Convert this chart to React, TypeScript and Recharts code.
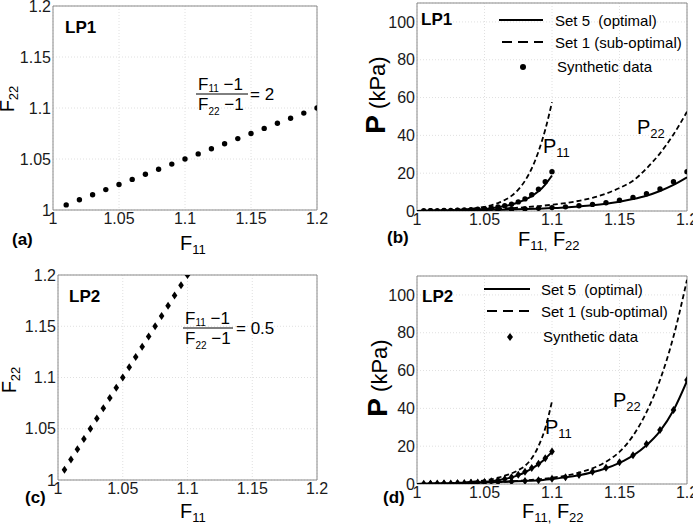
import React from 'react';
import {
  ComposedChart, Line, Scatter, XAxis, YAxis, CartesianGrid, ReferenceArea,
} from 'recharts';

// ---------- data ----------
const F_TICKS = [1, 1.05, 1.1, 1.15, 1.2];
const P_TICKS = [0, 20, 40, 60, 80, 100];

// (a) LP1 path
const A_F11 = [1.01, 1.02, 1.03, 1.04, 1.05, 1.06, 1.07, 1.08, 1.09, 1.1, 1.11, 1.12, 1.13, 1.14, 1.15, 1.16, 1.17, 1.18, 1.19, 1.2];
const A_F22 = [1.005, 1.01, 1.015, 1.02, 1.025, 1.03, 1.035, 1.04, 1.045, 1.05, 1.055, 1.06, 1.065, 1.07, 1.075, 1.08, 1.085, 1.09, 1.095, 1.1];

// (c) LP2 path
const C_F11 = [1.005, 1.01, 1.015, 1.02, 1.025, 1.03, 1.035, 1.04, 1.045, 1.05, 1.055, 1.06, 1.065, 1.07, 1.075, 1.08, 1.085, 1.09, 1.095, 1.1];
const C_F22 = [1.01, 1.02, 1.03, 1.04, 1.05, 1.06, 1.07, 1.08, 1.09, 1.1, 1.11, 1.12, 1.13, 1.14, 1.15, 1.16, 1.17, 1.18, 1.19, 1.2];

// stretch grids
const LINE_X_SHORT = [1, 1.005, 1.01, 1.015, 1.02, 1.025, 1.03, 1.035, 1.04, 1.045, 1.05, 1.055, 1.06, 1.065, 1.07, 1.075, 1.08, 1.085, 1.09, 1.095, 1.1];
const LINE_X_LONG = [1, 1.01, 1.02, 1.03, 1.04, 1.05, 1.06, 1.07, 1.08, 1.09, 1.1, 1.11, 1.12, 1.13, 1.14, 1.15, 1.16, 1.17, 1.18, 1.19, 1.2];
const DATA_X_SHORT = [1.005, 1.01, 1.015, 1.02, 1.025, 1.03, 1.035, 1.04, 1.045, 1.05, 1.055, 1.06, 1.065, 1.07, 1.075, 1.08, 1.085, 1.09, 1.095, 1.1];
const DATA_X_LONG = [1.01, 1.02, 1.03, 1.04, 1.05, 1.06, 1.07, 1.08, 1.09, 1.1, 1.11, 1.12, 1.13, 1.14, 1.15, 1.16, 1.17, 1.18, 1.19, 1.2];

// (b) LP1 stresses (kPa)
const B_P11_SET5 = [0, 0.1, 0.15, 0.2, 0.25, 0.3, 0.4, 0.5, 0.65, 0.85, 1.1, 1.5, 2.0, 2.6, 3.4, 4.5, 6.0, 7.9, 10.4, 14.0, 18.8];
const B_P11_SET1 = [0, 0.1, 0.2, 0.3, 0.4, 0.5, 0.7, 0.9, 1.2, 1.6, 2.2, 3.0, 4.2, 5.8, 8.0, 11.3, 16.0, 22.5, 31.5, 43, 57.5];
const B_P11_DATA = [0.1, 0.15, 0.2, 0.25, 0.35, 0.45, 0.55, 0.7, 0.9, 1.2, 1.6, 2.1, 2.8, 3.6, 4.8, 6.4, 8.6, 11.5, 15.5, 20.8];
const B_P22_SET5 = [0, 0.1, 0.2, 0.3, 0.4, 0.5, 0.65, 0.8, 1.0, 1.25, 1.55, 1.9, 2.4, 3.0, 3.8, 4.9, 6.3, 8.1, 10.6, 13.8, 17.8];
const B_P22_SET1 = [0, 0.1, 0.25, 0.4, 0.6, 0.85, 1.15, 1.5, 2.0, 2.6, 3.3, 4.2, 5.4, 7.0, 9.2, 12.2, 16.0, 22.5, 30.5, 40.5, 52.5];
const B_P22_DATA = [0.1, 0.2, 0.3, 0.4, 0.55, 0.7, 0.9, 1.1, 1.4, 1.8, 2.2, 2.8, 3.5, 4.4, 5.7, 7.2, 9.1, 11.7, 15.5, 20.8];

// (d) LP2 stresses (kPa)
const D_P11_SET5 = [0, 0.1, 0.15, 0.2, 0.25, 0.3, 0.4, 0.5, 0.65, 0.85, 1.1, 1.45, 1.95, 2.6, 3.5, 4.7, 6.2, 8.1, 10.5, 13.4, 17.0];
const D_P11_SET1 = [0, 0.1, 0.2, 0.3, 0.4, 0.5, 0.65, 0.85, 1.1, 1.45, 1.9, 2.5, 3.3, 4.4, 5.6, 7.3, 9.6, 13.6, 20, 29.5, 43.7];
const D_P11_DATA = [0.1, 0.15, 0.2, 0.25, 0.3, 0.4, 0.5, 0.65, 0.85, 1.1, 1.5, 2.0, 2.7, 3.6, 4.9, 6.5, 8.4, 10.7, 13.6, 17.2];
const D_P22_SET5 = [0, 0.15, 0.3, 0.45, 0.6, 0.8, 1.0, 1.3, 1.6, 2.0, 2.7, 3.5, 4.6, 6.2, 8.3, 11.2, 15.0, 20.5, 28.0, 39.0, 54.5];
const D_P22_SET1 = [0, 0.1, 0.25, 0.4, 0.55, 0.75, 1.0, 1.4, 1.9, 2.5, 3.3, 4.4, 6.0, 8.3, 11.8, 17, 25.5, 38, 55, 78, 108];
const D_P22_DATA = [0.15, 0.3, 0.45, 0.6, 0.8, 1.0, 1.3, 1.6, 2.0, 2.8, 3.6, 4.8, 6.5, 8.6, 11.5, 15.2, 21.2, 28.6, 39.2, 55];

const LEGEND_LABELS = ['Set 5  (optimal)', 'Set 1 (sub-optimal)', 'Synthetic data'];

// ---------- helpers ----------
const zip = (xs: number[], ys: number[]) => xs.map((x, i) => ({ x, y: ys[i] }));
const FONT = '"Liberation Sans", Arial, Helvetica, sans-serif';
const fmt = (v: number) => String(parseFloat(v.toFixed(2)));
const GRID = '#e0e0e0';
const BOX = '#8a8a8a';

const Dot = (p: any) => <circle cx={p.cx} cy={p.cy} r={2.7} fill="#000" />;
const Diamond = (p: any) => (
  <polygon points={`${p.cx},${p.cy - 4} ${p.cx + 2.8},${p.cy} ${p.cx},${p.cy + 4} ${p.cx - 2.8},${p.cy}`} fill="#000" />
);

type PanelProps = {
  left: number; top: number; width: number; height: number;
  margin: { top: number; right: number; left: number; bottom: number };
  yWidth: number; xHeight: number;
  yDomain: [number, number]; yTicks: number[];
  children: React.ReactNode;
};

function Panel(p: PanelProps) {
  const tickStyle = { fontSize: 16, fill: '#1a1a1a', fontFamily: FONT };
  return (
    <div style={{ position: 'absolute', left: p.left, top: p.top }}>
      <ComposedChart width={p.width} height={p.height} margin={p.margin}>
        <CartesianGrid stroke={GRID} strokeDasharray="1 2" />
        <XAxis type="number" dataKey="x" domain={[1, 1.2]} ticks={F_TICKS} allowDataOverflow
          tickFormatter={fmt} axisLine={false} tickLine={false} tickSize={0} tickMargin={3}
          height={p.xHeight} tick={tickStyle} interval={0} />
        <YAxis type="number" dataKey="y" domain={p.yDomain} ticks={p.yTicks} allowDataOverflow
          tickFormatter={fmt} axisLine={false} tickLine={false} tickSize={0} tickMargin={2}
          width={p.yWidth} tick={tickStyle} interval={0} />
        <ReferenceArea x1={1} x2={1.2} y1={p.yDomain[0]} y2={p.yDomain[1]} fill="none" stroke={BOX} strokeWidth={1} ifOverflow="visible" />
        {p.children}
      </ComposedChart>
    </div>
  );
}

const solid = { stroke: '#000', strokeWidth: 2, dot: false as const, isAnimationActive: false, type: 'monotone' as const };
const dashed = { stroke: '#000', strokeWidth: 1.8, strokeDasharray: '5 3', dot: false as const, isAnimationActive: false, type: 'monotone' as const };

const Sub = ({ children, size = 12, dy = 5 }: any) => (
  <tspan fontSize={size} dy={dy}>{children}</tspan>
);

export default function App() {
  return (
    <div style={{ position: 'absolute', left: 0, top: 0, width: 693, height: 529, background: '#fff', fontFamily: FONT, overflow: 'hidden' }}>
      {/* (a) */}
      <Panel left={0} top={0} width={330} height={250} margin={{ top: 6, right: 13, left: 0, bottom: 0 }}
        yWidth={53} xHeight={40} yDomain={[1, 1.2]} yTicks={F_TICKS}>
        <Scatter data={zip(A_F11, A_F22)} shape={Dot} isAnimationActive={false} />
      </Panel>
      {/* (c) */}
      <Panel left={0} top={262} width={330} height={258} margin={{ top: 13, right: 13, left: 0, bottom: 0 }}
        yWidth={58} xHeight={40} yDomain={[1, 1.2]} yTicks={F_TICKS}>
        <Scatter data={zip(C_F11, C_F22)} shape={Diamond} isAnimationActive={false} />
      </Panel>
      {/* (b) */}
      <Panel left={345} top={0} width={348} height={250} margin={{ top: 3, right: 6, left: 0, bottom: 0 }}
        yWidth={72} xHeight={39} yDomain={[0, 110]} yTicks={P_TICKS}>
        <Line data={zip(LINE_X_SHORT, B_P11_SET1)} dataKey="y" {...dashed} />
        <Line data={zip(LINE_X_LONG, B_P22_SET1)} dataKey="y" {...dashed} />
        <Line data={zip(LINE_X_SHORT, B_P11_SET5)} dataKey="y" {...solid} />
        <Line data={zip(LINE_X_LONG, B_P22_SET5)} dataKey="y" {...solid} />
        <Scatter data={zip(DATA_X_SHORT, B_P11_DATA)} shape={Dot} isAnimationActive={false} />
        <Scatter data={zip(DATA_X_LONG, B_P22_DATA)} shape={Dot} isAnimationActive={false} />
      </Panel>
      {/* (d) */}
      <Panel left={345} top={262} width={348} height={262} margin={{ top: 14, right: 6, left: 0, bottom: 0 }}
        yWidth={72} xHeight={40} yDomain={[0, 110]} yTicks={P_TICKS}>
        <Line data={zip(LINE_X_SHORT, D_P11_SET1)} dataKey="y" {...dashed} />
        <Line data={zip(LINE_X_LONG, D_P22_SET1)} dataKey="y" {...dashed} />
        <Line data={zip(LINE_X_SHORT, D_P11_SET5)} dataKey="y" {...solid} />
        <Line data={zip(LINE_X_LONG, D_P22_SET5)} dataKey="y" {...solid} />
        <Scatter data={zip(DATA_X_SHORT, D_P11_DATA)} shape={Diamond} isAnimationActive={false} />
        <Scatter data={zip(DATA_X_LONG, D_P22_DATA)} shape={Diamond} isAnimationActive={false} />
      </Panel>

      {/* annotations */}
      <svg width={693} height={529} style={{ position: 'absolute', left: 0, top: 0, pointerEvents: 'none' }}
        fontFamily={FONT} fill="#000">
        {/* (a) */}
        <text x={65} y={33} fontSize={17} fontWeight="bold">LP1</text>
        <text x={198} y={90} fontSize={17}>F<Sub size={10} dy={2}>11</Sub><tspan dy={-2}> −1</tspan></text>
        <line x1={196} x2={248} y1={94} y2={94} stroke="#000" strokeWidth={1} />
        <text x={198} y={110} fontSize={17}>F<Sub size={10} dy={5}>22</Sub><tspan dy={-5}> −1</tspan></text>
        <text x={250} y={100} fontSize={17}>= 2</text>
        <text x={12} y={245} fontSize={17} fontWeight="bold">(a)</text>
        <text x={180} y={250} fontSize={20}>F<Sub size={13} dy={4}>11</Sub></text>
        <text transform="translate(14,99) rotate(-90)" textAnchor="middle" fontSize={20}>F<Sub size={13} dy={4}>22</Sub></text>

        {/* (c) */}
        <text x={185} y={324} fontSize={17}>F<Sub size={10} dy={2}>11</Sub><tspan dy={-2}> −1</tspan></text>
        <line x1={183} x2={233} y1={328} y2={328} stroke="#000" strokeWidth={1} />
        <text x={185} y={344} fontSize={17}>F<Sub size={10} dy={5}>22</Sub><tspan dy={-5}> −1</tspan></text>
        <text x={236} y={334} fontSize={17}>= 0.5</text>
        <text x={69} y={302} fontSize={17} fontWeight="bold">LP2</text>
        <text x={25} y={503} fontSize={17} fontWeight="bold">(c)</text>
        <text x={180} y={518} fontSize={20}>F<Sub size={13} dy={4}>11</Sub></text>
        <text transform="translate(16,380) rotate(-90)" textAnchor="middle" fontSize={20}>F<Sub size={13} dy={4}>22</Sub></text>

        {/* (b) */}
        <text x={421} y={25} fontSize={17} fontWeight="bold">LP1</text>
        <line x1={499} x2={543} y1={20} y2={20} stroke="#000" strokeWidth={2} />
        <text x={555} y={26} fontSize={15} style={{ whiteSpace: 'pre' }}>{LEGEND_LABELS[0]}</text>
        <line x1={502} x2={543} y1={42} y2={42} stroke="#000" strokeWidth={2} strokeDasharray="10 6" />
        <text x={555} y={48} fontSize={15} style={{ whiteSpace: 'pre' }}>{LEGEND_LABELS[1]}</text>
        <circle cx={523} cy={67} r={3} fill="#000" />
        <text x={557} y={72} fontSize={15}>{LEGEND_LABELS[2]}</text>
        <text x={543} y={153} fontSize={20}>P<Sub size={13} dy={4}>11</Sub></text>
        <text x={637} y={134} fontSize={20}>P<Sub size={13} dy={4}>22</Sub></text>
        <text x={387} y={243} fontSize={17} fontWeight="bold">(b)</text>
        <text x={518} y={246} fontSize={20}>F<Sub size={13} dy={4}>11,</Sub><tspan dy={-4}> F</tspan><Sub size={13} dy={4}>22</Sub></text>
        <text transform="translate(385,95) rotate(-90)" textAnchor="middle" style={{ whiteSpace: 'pre' }}>
          <tspan fontSize={28} fontWeight="bold">P</tspan><tspan fontSize={22}> (kPa)</tspan>
        </text>

        {/* (d) */}
        <text x={422} y={302} fontSize={17} fontWeight="bold">LP2</text>
        <line x1={484} x2={530} y1={289} y2={289} stroke="#000" strokeWidth={2} />
        <text x={541} y={295} fontSize={15} style={{ whiteSpace: 'pre' }}>{LEGEND_LABELS[0]}</text>
        <line x1={487} x2={530} y1={311} y2={311} stroke="#000" strokeWidth={2} strokeDasharray="10 6" />
        <text x={541} y={317} fontSize={15} style={{ whiteSpace: 'pre' }}>{LEGEND_LABELS[1]}</text>
        <polygon points="510,333 513,337 510,341 507,337" fill="#000" />
        <text x={543} y={342} fontSize={15}>{LEGEND_LABELS[2]}</text>
        <text x={545} y={434} fontSize={20}>P<Sub size={13} dy={4}>11</Sub></text>
        <text x={613} y={407} fontSize={20}>P<Sub size={13} dy={4}>22</Sub></text>
        <text x={383} y={503} fontSize={17} fontWeight="bold">(d)</text>
        <text x={522} y={518} fontSize={20}>F<Sub size={13} dy={4}>11,</Sub><tspan dy={-4}> F</tspan><Sub size={13} dy={4}>22</Sub></text>
        <text transform="translate(387,378) rotate(-90)" textAnchor="middle" style={{ whiteSpace: 'pre' }}>
          <tspan fontSize={28} fontWeight="bold">P</tspan><tspan fontSize={22}> (kPa)</tspan>
        </text>
      </svg>
    </div>
  );
}
